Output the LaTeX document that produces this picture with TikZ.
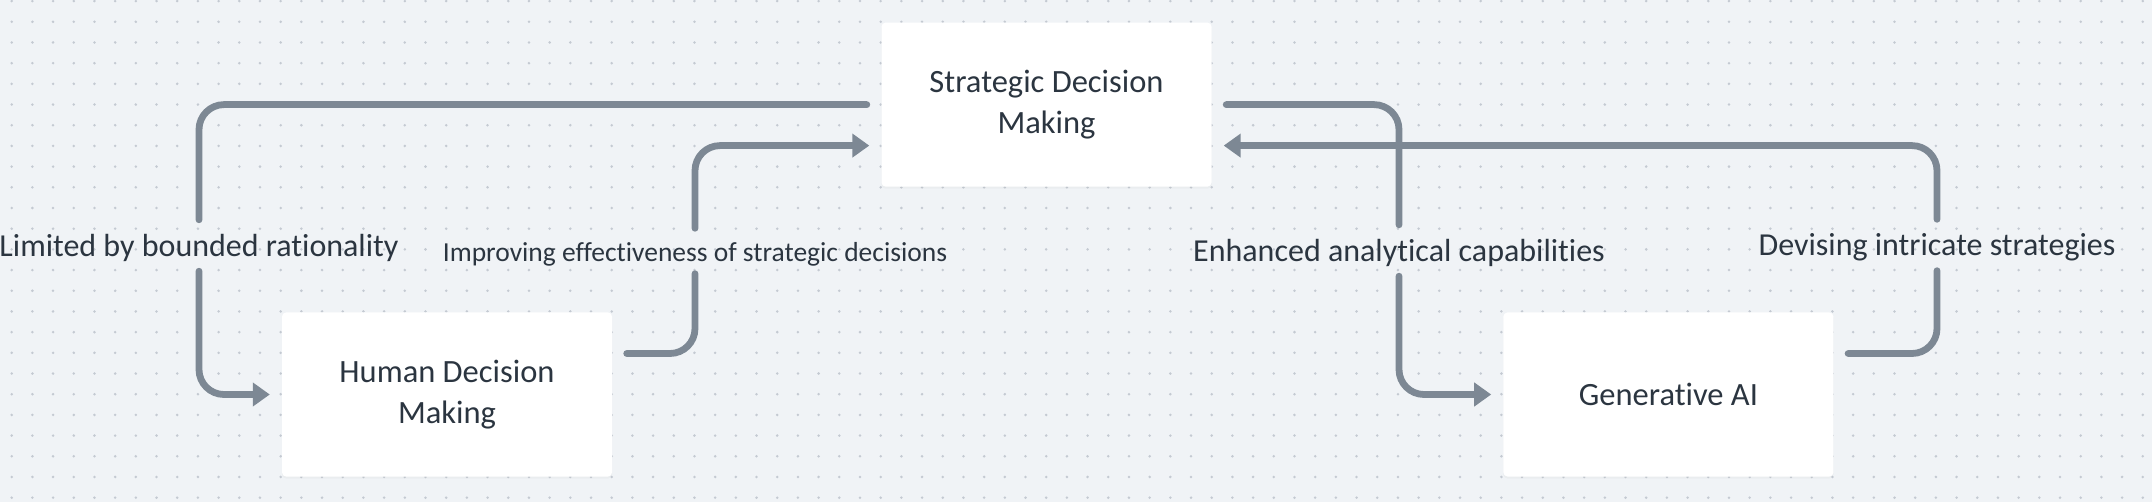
\documentclass[tikz,border=0pt]{standalone}
\usepackage{fontspec}
\setmainfont{Carlito}[Ligatures=NoCommon]
\usepackage{tikz}
\usetikzlibrary{positioning,arrows.meta,shadows}
\definecolor{bgc}{HTML}{F0F3F6}
\definecolor{dotc}{HTML}{C4CAD2}
\definecolor{linec}{HTML}{7D8894}
\definecolor{textc}{HTML}{2B3540}

\begin{document}
\begin{tikzpicture}[
    box/.style={rectangle, fill=white, rounded corners=4pt, minimum width=330pt,
      minimum height=164pt, align=center, text=textc,
      font=\fontsize{32.5}{41}\selectfont,
      drop shadow={shadow xshift=0pt, shadow yshift=-2pt, opacity=0.05}},
    lbl/.style={text=textc, inner xsep=2pt, inner ysep=3.5pt, text height=33pt,
      text depth=11pt, font=\fontsize{32}{38}\selectfont},
    smalllbl/.style={lbl, text height=30pt, text depth=8pt,
      font=\fontsize{27.5}{33}\selectfont},
    conn/.style={draw=linec, line width=6.8pt, line cap=round, rounded corners=25pt,
      shorten >=12pt, -{Triangle[length=17pt,width=23pt]}}]

  \useasboundingbox (0,0) rectangle (2152pt,-502pt);
  \fill[bgc] (0,0) rectangle (2152pt,-502pt);

  % dotted grid
  \foreach \i in {0,...,103}
    \foreach \j in {0,...,24}
      \fill[dotc] ({11.7pt+\i*20.69pt},{-1.1pt-\j*20.69pt}) circle (1.4pt);

  % Define nodes
  \node[box] at (447pt,-394.5pt) (hdm) {Human Decision\\Making};

  \node[box, above=125.5pt of hdm, xshift=599.5pt] (sdm) {Strategic Decision\\Making};

  \node[box, right=891pt of hdm] (gai) {Generative AI};

  \node[lbl] at (199pt,-245.5pt) (lim) {Limited by bounded rationality};
  \node[smalllbl] at (695pt,-251pt) (imp) {Improving effectiveness of strategic decisions};
  \node[lbl] at (1399pt,-250.5pt) (enh) {Enhanced analytical capabilities};
  \node[lbl] at (1937pt,-245pt) (dev) {Devising intricate strategies};

  \draw [conn] ([xshift=-14.5pt]sdm.west) -| (lim) |- (hdm.west);
  \draw [conn] ([xshift=14.5pt,yshift=41pt]hdm.east) -| (imp) |- ([yshift=-41pt]sdm.west);
  \draw [conn] ([xshift=14.5pt]sdm.east) -| (enh) |- (gai.west);
  \draw [conn] ([xshift=14.5pt,yshift=41pt]gai.east) -| (dev) |- ([yshift=-41pt]sdm.east);

\end{tikzpicture}
\end{document}
